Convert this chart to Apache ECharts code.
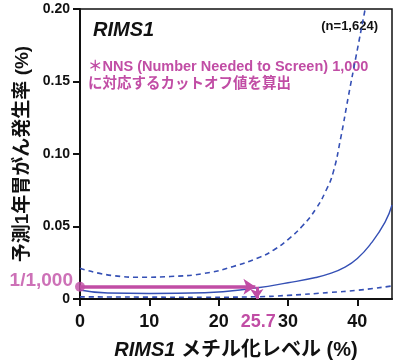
<!DOCTYPE html>
<html>
<head>
<meta charset="utf-8">
<script src="https://cdn.jsdelivr.net/npm/echarts@6/dist/echarts.min.js"></script>
<style>
  html, body { margin: 0; padding: 0; background: #fff; }
  #chart { width: 401px; height: 363px; }
</style>
</head>
<body>
<div id="chart"></div>
<script>
// values
const upperX = [0, 5, 9, 13, 18, 22, 26, 28, 30, 32, 34, 35.5, 36.5, 37.6, 38.7, 39.8, 41.1, 41.6];
const upperY = [0.0212, 0.016, 0.015, 0.0155, 0.0177, 0.0223, 0.029, 0.034, 0.041, 0.05, 0.062, 0.075, 0.087, 0.111, 0.1395, 0.167, 0.1993, 0.212];
const centralX = [0, 4, 10, 18, 25.6, 30, 34, 36, 38, 40, 42, 44, 45];
const centralY = [0.0062, 0.0041, 0.0038, 0.0043, 0.0078, 0.0112, 0.0148, 0.0175, 0.0215, 0.028, 0.0385, 0.053, 0.0648];
const lowerX = [0, 10, 18, 25, 30, 36, 40, 45];
const lowerY = [0.0015, 0.0013, 0.0012, 0.0015, 0.0025, 0.0045, 0.006, 0.009];
const cutoffX = 25.7;
const targetY = 0.0085;
const xTicks = [0, 10, 20, 30, 40];
const xLabels = [0, 10, 20, 25.7, 30, 40];

const pink = '#c14da5';
const blue = '#3550b5';
const font = '"Liberation Sans", "Noto Sans CJK JP", sans-serif';

const pairs = (xs, ys) => xs.map((x, i) => [x, ys[i]]);

const chart = echarts.init(document.getElementById('chart'));
chart.setOption({
  animation: false,
  grid: { left: 80, right: 9, top: 9, bottom: 64, show: true, borderColor: '#111', borderWidth: 1.5, outerBoundsMode: 'none' },
  xAxis: {
    type: 'value', min: 0, max: 45, interval: 10,
    name: '{i|RIMS1} メチル化レベル (%)',
    nameLocation: 'middle', nameGap: 41,
    nameTextStyle: {
      fontFamily: font, fontSize: 20, fontWeight: 'bold', color: '#111',
      rich: { i: { fontFamily: font, fontSize: 20, fontWeight: 'bold', fontStyle: 'italic', color: '#111' } }
    },
    axisLine: { lineStyle: { color: '#111', width: 2 } },
    axisTick: { show: true, length: 7, lineStyle: { color: '#111', width: 2 }, customValues: xTicks },
    axisLabel: {
      customValues: xLabels, margin: 14,
      fontFamily: font, fontSize: 18, fontWeight: 'bold', color: '#111',
      formatter: v => (v === cutoffX ? '{p|' + v + '}' : String(v)),
      rich: { p: { fontFamily: font, fontSize: 18, fontWeight: 'bold', color: pink } }
    },
    splitLine: { show: false }
  },
  yAxis: {
    type: 'value', min: 0, max: 0.2, interval: 0.05,
    name: '予測1年胃がん発生率 (%)',
    nameLocation: 'middle', nameGap: 46,
    nameTextStyle: { fontFamily: font, fontSize: 19, fontWeight: 'bold', color: '#111' },
    axisLine: { show: true, lineStyle: { color: '#111', width: 2 } },
    axisTick: { show: true, length: 7, lineStyle: { color: '#111', width: 2 } },
    axisLabel: {
      margin: 10, fontFamily: font, fontSize: 14, fontWeight: 'bold', color: '#111',
      formatter: v => (v === 0 ? '0' : v.toFixed(2))
    },
    splitLine: { show: false }
  },
  series: [
    {
      type: 'line', data: pairs(upperX, upperY), smooth: 0.5, symbol: 'none',
      lineStyle: { color: blue, width: 1.6, type: [5, 4] }
    },
    {
      type: 'line', data: pairs(lowerX, lowerY), smooth: 0.5, symbol: 'none',
      lineStyle: { color: blue, width: 1.6, type: [5, 4] }
    },
    {
      type: 'line', data: pairs(centralX, centralY), smooth: 0.5, symbol: 'none',
      lineStyle: { color: blue, width: 1.4 }
    },
    {
      type: 'lines', coordinateSystem: 'cartesian2d', polyline: false, z: 5,
      symbol: ['none', 'arrow'], symbolSize: 12,
      lineStyle: { color: pink, width: 3.5, opacity: 1, curveness: 0 },
      data: [{ coords: [[0, targetY], [cutoffX - 0.4, targetY]] }]
    },
    {
      type: 'lines', coordinateSystem: 'cartesian2d', polyline: false, z: 5,
      symbol: ['none', 'arrow'], symbolSize: 10,
      lineStyle: { color: pink, width: 3, opacity: 1, curveness: 0 },
      data: [{ coords: [[cutoffX - 0.2, targetY], [cutoffX - 0.2, 0]] }]
    },
    {
      type: 'scatter', data: [[0, targetY]], symbol: 'circle', symbolSize: 10, clip: false, z: 6,
      itemStyle: { color: pink },
      label: {
        show: true, position: 'left', distance: 2, offset: [0, -6],
        formatter: '1/1,000', fontFamily: font, fontSize: 19, fontWeight: 'bold', color: pink
      }
    }
  ],
  graphic: [
    { type: 'text', left: 93, top: 20, style: { text: 'RIMS1', font: 'italic bold 20px ' + font, fill: '#111' } },
    { type: 'text', right: 23, top: 20, style: { text: '(n=1,624)', font: 'bold 13px ' + font, fill: '#111' } },
    { type: 'text', left: 88, top: 58, style: { text: '＊NNS (Number Needed to Screen) 1,000\nに対応するカットオフ値を算出', font: 'bold 14.5px ' + font, lineHeight: 17, fill: pink } }
  ]
});
</script>
</body>
</html>
